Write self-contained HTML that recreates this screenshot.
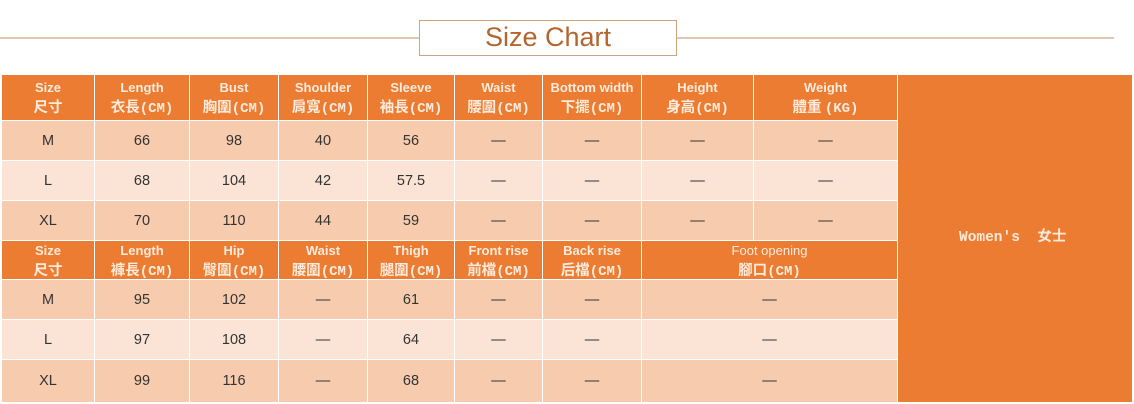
<!DOCTYPE html>
<html><head><meta charset="utf-8"><style>
*{margin:0;padding:0;box-sizing:border-box}
body{width:1134px;height:404px;background:#fff;position:relative;overflow:hidden;font-family:"Liberation Sans","Noto Sans CJK TC",sans-serif}
.c{position:absolute;display:flex;flex-direction:column;align-items:center;justify-content:center;text-align:center;white-space:nowrap}
.h{background:#EC7C31;color:#FDEBDD}
.a{background:#F7CBAD;color:#333}
.b{background:#FBE4D5;color:#333}
.en{font-weight:bold;font-size:13px;line-height:18px;height:18px}
.cn{font-family:"Noto Sans CJK TC","Noto Sans CJK SC",sans-serif;font-weight:bold;font-size:14.5px;line-height:19px;height:19px}
.cn .m{font-family:"Liberation Mono",monospace;font-weight:bold;font-size:14px}
.d{font-size:14.5px}
.line{position:absolute;height:2px;background:#E2C7B0;top:37px}
</style></head><body>
<div class="line" style="left:0;width:419px"></div>
<div class="line" style="left:677px;width:437px"></div>
<div style="position:absolute;left:419px;top:20px;width:258px;height:36px;border:1.5px solid #CDA27F;background:#fff;text-align:center;font-size:27px;line-height:33px;color:#B4652D">Size Chart</div>

<!-- right block -->
<div class="c h" style="left:898px;top:75px;width:234px;height:327px"></div>
<div style="position:absolute;left:959px;top:229px;font-family:'Liberation Mono','Noto Sans CJK TC',monospace;font-weight:bold;font-size:14.5px;line-height:18px;color:#FCE9D8;white-space:pre">Women's  女士</div>

<!-- header 1 -->
<div class="c h" style="left:2px;top:75px;width:92px;height:45px"><div class="en">Size</div><div class="cn">尺寸</div></div>
<div class="c h" style="left:95px;top:75px;width:94px;height:45px"><div class="en">Length</div><div class="cn">衣長<span class="m">(CM)</span></div></div>
<div class="c h" style="left:190px;top:75px;width:88px;height:45px"><div class="en">Bust</div><div class="cn">胸圍<span class="m">(CM)</span></div></div>
<div class="c h" style="left:279px;top:75px;width:88px;height:45px"><div class="en">Shoulder</div><div class="cn">肩寬<span class="m">(CM)</span></div></div>
<div class="c h" style="left:368px;top:75px;width:86px;height:45px"><div class="en">Sleeve</div><div class="cn">袖長<span class="m">(CM)</span></div></div>
<div class="c h" style="left:455px;top:75px;width:87px;height:45px"><div class="en">Waist</div><div class="cn">腰圍<span class="m">(CM)</span></div></div>
<div class="c h" style="left:543px;top:75px;width:98px;height:45px"><div class="en">Bottom width</div><div class="cn">下擺<span class="m">(CM)</span></div></div>
<div class="c h" style="left:642px;top:75px;width:111px;height:45px"><div class="en">Height</div><div class="cn">身高<span class="m">(CM)</span></div></div>
<div class="c h" style="left:754px;top:75px;width:143px;height:45px"><div class="en">Weight</div><div class="cn">體重 <span class="m">(KG)</span></div></div>

<!-- row M -->
<div class="c a d" style="left:2px;top:121px;width:92px;height:39px">M</div>
<div class="c a d" style="left:95px;top:121px;width:94px;height:39px">66</div>
<div class="c a d" style="left:190px;top:121px;width:88px;height:39px">98</div>
<div class="c a d" style="left:279px;top:121px;width:88px;height:39px">40</div>
<div class="c a d" style="left:368px;top:121px;width:86px;height:39px">56</div>
<div class="c a d" style="left:455px;top:121px;width:87px;height:39px">—</div>
<div class="c a d" style="left:543px;top:121px;width:98px;height:39px">—</div>
<div class="c a d" style="left:642px;top:121px;width:111px;height:39px">—</div>
<div class="c a d" style="left:754px;top:121px;width:143px;height:39px">—</div>
<!-- row L -->
<div class="c b d" style="left:2px;top:161px;width:92px;height:39px">L</div>
<div class="c b d" style="left:95px;top:161px;width:94px;height:39px">68</div>
<div class="c b d" style="left:190px;top:161px;width:88px;height:39px">104</div>
<div class="c b d" style="left:279px;top:161px;width:88px;height:39px">42</div>
<div class="c b d" style="left:368px;top:161px;width:86px;height:39px">57.5</div>
<div class="c b d" style="left:455px;top:161px;width:87px;height:39px">—</div>
<div class="c b d" style="left:543px;top:161px;width:98px;height:39px">—</div>
<div class="c b d" style="left:642px;top:161px;width:111px;height:39px">—</div>
<div class="c b d" style="left:754px;top:161px;width:143px;height:39px">—</div>
<!-- row XL -->
<div class="c a d" style="left:2px;top:201px;width:92px;height:39px">XL</div>
<div class="c a d" style="left:95px;top:201px;width:94px;height:39px">70</div>
<div class="c a d" style="left:190px;top:201px;width:88px;height:39px">110</div>
<div class="c a d" style="left:279px;top:201px;width:88px;height:39px">44</div>
<div class="c a d" style="left:368px;top:201px;width:86px;height:39px">59</div>
<div class="c a d" style="left:455px;top:201px;width:87px;height:39px">—</div>
<div class="c a d" style="left:543px;top:201px;width:98px;height:39px">—</div>
<div class="c a d" style="left:642px;top:201px;width:111px;height:39px">—</div>
<div class="c a d" style="left:754px;top:201px;width:143px;height:39px">—</div>

<!-- header 2 -->
<div class="c h" style="left:2px;top:241px;width:92px;height:38px"><div class="en">Size</div><div class="cn">尺寸</div></div>
<div class="c h" style="left:95px;top:241px;width:94px;height:38px"><div class="en">Length</div><div class="cn">褲長<span class="m">(CM)</span></div></div>
<div class="c h" style="left:190px;top:241px;width:88px;height:38px"><div class="en">Hip</div><div class="cn">臀圍<span class="m">(CM)</span></div></div>
<div class="c h" style="left:279px;top:241px;width:88px;height:38px"><div class="en">Waist</div><div class="cn">腰圍<span class="m">(CM)</span></div></div>
<div class="c h" style="left:368px;top:241px;width:86px;height:38px"><div class="en">Thigh</div><div class="cn">腿圍<span class="m">(CM)</span></div></div>
<div class="c h" style="left:455px;top:241px;width:87px;height:38px"><div class="en">Front rise</div><div class="cn">前檔<span class="m">(CM)</span></div></div>
<div class="c h" style="left:543px;top:241px;width:98px;height:38px"><div class="en">Back rise</div><div class="cn">后檔<span class="m">(CM)</span></div></div>
<div class="c h" style="left:642px;top:241px;width:255px;height:38px"><div class="en" style="font-weight:normal">Foot opening</div><div class="cn">腳口<span class="m">(CM)</span></div></div>

<!-- row M2 -->
<div class="c a d" style="left:2px;top:280px;width:92px;height:39px">M</div>
<div class="c a d" style="left:95px;top:280px;width:94px;height:39px">95</div>
<div class="c a d" style="left:190px;top:280px;width:88px;height:39px">102</div>
<div class="c a d" style="left:279px;top:280px;width:88px;height:39px">—</div>
<div class="c a d" style="left:368px;top:280px;width:86px;height:39px">61</div>
<div class="c a d" style="left:455px;top:280px;width:87px;height:39px">—</div>
<div class="c a d" style="left:543px;top:280px;width:98px;height:39px">—</div>
<div class="c a d" style="left:642px;top:280px;width:255px;height:39px">—</div>
<!-- row L2 -->
<div class="c b d" style="left:2px;top:320px;width:92px;height:39px">L</div>
<div class="c b d" style="left:95px;top:320px;width:94px;height:39px">97</div>
<div class="c b d" style="left:190px;top:320px;width:88px;height:39px">108</div>
<div class="c b d" style="left:279px;top:320px;width:88px;height:39px">—</div>
<div class="c b d" style="left:368px;top:320px;width:86px;height:39px">64</div>
<div class="c b d" style="left:455px;top:320px;width:87px;height:39px">—</div>
<div class="c b d" style="left:543px;top:320px;width:98px;height:39px">—</div>
<div class="c b d" style="left:642px;top:320px;width:255px;height:39px">—</div>
<!-- row XL2 -->
<div class="c a d" style="left:2px;top:360px;width:92px;height:42px">XL</div>
<div class="c a d" style="left:95px;top:360px;width:94px;height:42px">99</div>
<div class="c a d" style="left:190px;top:360px;width:88px;height:42px">116</div>
<div class="c a d" style="left:279px;top:360px;width:88px;height:42px">—</div>
<div class="c a d" style="left:368px;top:360px;width:86px;height:42px">68</div>
<div class="c a d" style="left:455px;top:360px;width:87px;height:42px">—</div>
<div class="c a d" style="left:543px;top:360px;width:98px;height:42px">—</div>
<div class="c a d" style="left:642px;top:360px;width:255px;height:42px">—</div>
</body></html>
